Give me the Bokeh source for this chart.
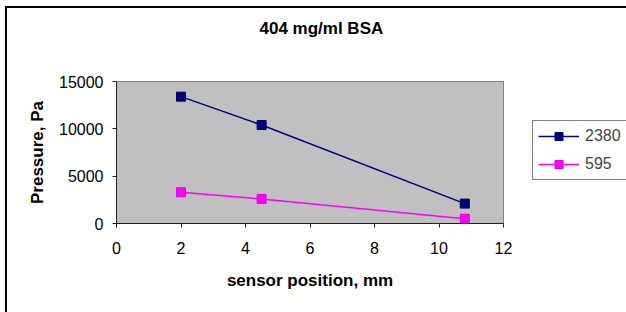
from bokeh.plotting import figure
from bokeh.models import (Legend, LegendItem, FixedTicker, Range1d, Title, InlineStyleSheet)
from bokeh.layouts import row
from bokeh.embed import file_html
from bokeh.resources import INLINE

positions = [2, 4.5, 10.8]
series_2380 = [13400, 10400, 2100]
series_595 = [3300, 2600, 500]
series_names = ["2380", "595"]
x_ticks = [0, 2, 4, 6, 8, 10, 12]
y_ticks = [0, 5000, 10000, 15000]

FONT = "Liberation Sans"
BLUE = "#000080"
PINK = "#FF00FF"

p = figure(width=513, height=304, output_backend="svg", toolbar_location=None,
           x_range=Range1d(0, 12), y_range=Range1d(0, 15000),
           min_border_left=109, min_border_right=17, min_border_top=73, min_border_bottom=89,
           background_fill_color="#C0C0C0", border_fill_color="white")
p.outline_line_color = "#808080"
p.outline_line_width = 1
p.xgrid.visible = False
p.ygrid.visible = False

xa = p.xaxis[0]
ya = p.yaxis[0]
for ax in (xa, ya):
    ax.axis_line_color = "#202020"
    ax.major_tick_line_color = "#202020"
    ax.major_tick_in = 0
    ax.major_tick_out = 4
    ax.minor_tick_line_color = None
    ax.major_label_text_font = FONT
    ax.major_label_text_font_size = "16px"
    ax.major_label_text_color = "black"
    ax.axis_label_text_font = FONT
    ax.axis_label_text_font_size = "17px"
    ax.axis_label_text_font_style = "bold"
    ax.axis_label_text_color = "black"

xa.ticker = FixedTicker(ticks=x_ticks)
ya.ticker = FixedTicker(ticks=y_ticks)
xa.axis_label = "sensor position, mm"
ya.axis_label = "Pressure, Pa"
xa.major_label_standoff = 14
ya.major_label_standoff = 9
xa.axis_label_standoff = 14
ya.axis_label_standoff = 9

# blank spacer between the plot area and the title
gap = Title(text=" ", text_font=FONT, text_font_size="16px", standoff=25)
p.add_layout(gap, "above")

t = Title(text="404 mg/ml BSA", align="left", text_font=FONT,
          text_font_size="17px", text_font_style="bold", text_color="black",
          offset=143, standoff=0)
p.add_layout(t, "above")

p.line(positions, series_2380, line_color=BLUE, line_width=1.5)
p.scatter(positions, series_2380, marker="square", size=9, fill_color=BLUE, line_color="#000060")
p.line(positions, series_595, line_color=PINK, line_width=1.5)
p.scatter(positions, series_595, marker="square", size=9, fill_color=PINK, line_color="#E000E0")

# legend panel: a second figure whose ranges show none of the data, only the key
p2 = figure(width=106, height=304, output_backend="svg", toolbar_location=None,
            x_range=Range1d(-1, 0), y_range=Range1d(-1, 0), min_border=0,
            x_axis_type=None, y_axis_type=None, outline_line_color=None,
            background_fill_color="white", border_fill_color="white")
p2.xgrid.visible = False
p2.ygrid.visible = False
k1l = p2.line(positions, series_2380, line_color=BLUE, line_width=1.5)
k1m = p2.scatter(positions, series_2380, marker="square", size=9, fill_color=BLUE, line_color="#000060")
k2l = p2.line(positions, series_595, line_color=PINK, line_width=1.5)
k2m = p2.scatter(positions, series_595, marker="square", size=9, fill_color=PINK, line_color="#E000E0")

legend = Legend(items=[LegendItem(label=series_names[0], renderers=[k1l, k1m]),
                       LegendItem(label=series_names[1], renderers=[k2l, k2m])],
                location=(12, 43), orientation="vertical",
                label_text_font=FONT, label_text_font_size="16px",
                glyph_width=41, glyph_height=20, label_standoff=6,
                padding=5, spacing=8, margin=0,
                border_line_color="black", border_line_width=1,
                background_fill_color="white", background_fill_alpha=1)
p2.add_layout(legend, "center")

frame_css = InlineStyleSheet(css=":host { margin: 6px 0 0 5px !important; "
                                 "border-left: 2px solid black !important; "
                                 "border-top: 2px solid black !important; }")
layout = row(p, p2, spacing=0, stylesheets=[frame_css])

open("out.html", "w").write(file_html(layout, INLINE))
